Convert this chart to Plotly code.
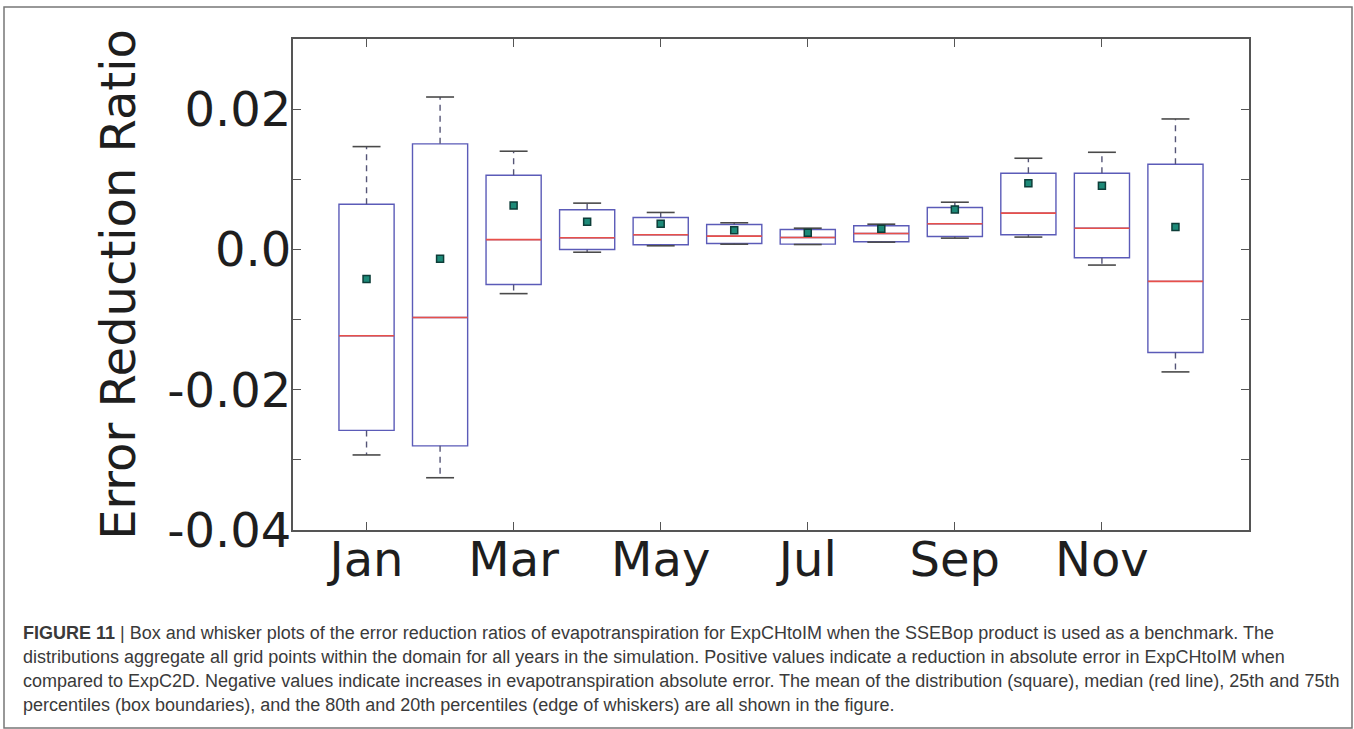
import plotly.graph_objects as go

months = ["Jan", "Feb", "Mar", "Apr", "May", "Jun", "Jul", "Aug", "Sep", "Oct", "Nov", "Dec"]
positions = [1, 2, 3, 4, 5, 6, 7, 8, 9, 10, 11, 12]
q1 = [-0.0258, -0.0280, -0.0050, 0.0000, 0.00067, 0.00085, 0.00075, 0.0011, 0.00185, 0.00209, -0.00118, -0.0147]
median = [-0.0123, -0.0097, 0.0014, 0.00166, 0.0021, 0.0019, 0.0017, 0.00228, 0.00366, 0.00517, 0.00303, -0.00456]
q3 = [0.00645, 0.01505, 0.01058, 0.00565, 0.00456, 0.00356, 0.00285, 0.00337, 0.00598, 0.01087, 0.01087, 0.01214]
p20 = [-0.0293, -0.03255, -0.0063, -0.0004, 0.00052, 0.00075, 0.0007, 0.00104, 0.00161, 0.00176, -0.00223, -0.01746]
p80 = [0.01466, 0.02173, 0.0140, 0.0066, 0.00527, 0.0038, 0.00303, 0.0036, 0.00673, 0.0130, 0.01385, 0.0186]
mean = [-0.00423, -0.00133, 0.00626, 0.00394, 0.00366, 0.00275, 0.00237, 0.00294, 0.0057, 0.00944, 0.00907, 0.00318]

xtick_vals = [1, 3, 5, 7, 9, 11]
xtick_text = ["Jan", "Mar", "May", "Jul", "Sep", "Nov"]
ytick_vals = [-0.04, -0.03, -0.02, -0.01, 0.0, 0.01, 0.02, 0.03]
ytick_text = ["-0.04", "", "-0.02", "", "0.0", "", "0.02", ""]

caption_lines = [
    "<b>FIGURE 11</b> | Box and whisker plots of the error reduction ratios of evapotranspiration for ExpCHtoIM when the SSEBop product is used as a benchmark. The",
    "distributions aggregate all grid points within the domain for all years in the simulation. Positive values indicate a reduction in absolute error in ExpCHtoIM when",
    "compared to ExpC2D. Negative values indicate increases in evapotranspiration absolute error. The mean of the distribution (square), median (red line), 25th and 75th",
    "percentiles (box boundaries), and the 80th and 20th percentiles (edge of whiskers) are all shown in the figure.",
]

BOX_W = 0.75
CAP_W = 0.38
BLUE = "#5b5bb8"
RED = "#e8504a"
DARK = "#4a4a4a"

fig = go.Figure()

fig.add_trace(go.Box(
    x=positions, q1=q1, median=median, q3=q3, lowerfence=q1, upperfence=q3,
    width=BOX_W, whiskerwidth=0,
    line=dict(color=BLUE, width=1.4), fillcolor="rgba(0,0,0,0)",
    boxpoints=False, showlegend=False, hoverinfo="skip",
))

def segs(xs0, xs1, ys0, ys1):
    X, Y = [], []
    for a, b, c, d in zip(xs0, xs1, ys0, ys1):
        X += [a, b, None]
        Y += [c, d, None]
    return X, Y

# whiskers (dashed)
wx, wy = segs(positions + positions, positions + positions, q3 + q1, p80 + p20)
fig.add_trace(go.Scatter(x=wx, y=wy, mode="lines", line=dict(color="#555577", width=1.4, dash="6px,5px"),
                         showlegend=False, hoverinfo="skip"))
# caps
cx0 = [p - CAP_W / 2 for p in positions]
cx1 = [p + CAP_W / 2 for p in positions]
kx, ky = segs(cx0 + cx0, cx1 + cx1, p80 + p20, p80 + p20)
fig.add_trace(go.Scatter(x=kx, y=ky, mode="lines", line=dict(color=DARK, width=1.6),
                         showlegend=False, hoverinfo="skip"))
# medians
mx0 = [p - BOX_W / 2 for p in positions]
mx1 = [p + BOX_W / 2 for p in positions]
mdx, mdy = segs(mx0, mx1, median, median)
fig.add_trace(go.Scatter(x=mdx, y=mdy, mode="lines", line=dict(color=RED, width=1.6),
                         showlegend=False, hoverinfo="skip"))
# means
fig.add_trace(go.Scatter(x=positions, y=mean, mode="markers",
                         marker=dict(symbol="square", size=7, color="#1d8a78",
                                     line=dict(color="#0d3d38", width=1.5)),
                         showlegend=False, hoverinfo="skip"))

axis_font = dict(family="DejaVu Sans", size=48, color="#1e1e1e")

fig.update_xaxes(
    range=[0, 13], tickvals=xtick_vals, ticktext=xtick_text,
    ticks="inside", ticklen=8, tickcolor="#555", tickwidth=1,
    showline=True, linecolor="#555", linewidth=2, mirror="ticks",
    showgrid=False, zeroline=False, tickfont=axis_font, ticklabelstandoff=-14,
)
fig.update_yaxes(
    range=[-0.04, 0.03], tickvals=ytick_vals, ticktext=ytick_text,
    ticks="inside", ticklen=8, tickcolor="#555", tickwidth=1,
    showline=True, linecolor="#555", linewidth=2, mirror="ticks",
    showgrid=False, zeroline=False, tickfont=axis_font, ticklabelstandoff=-10,
    title=dict(text="Error Reduction Ratio", font=axis_font, standoff=16),
)

W, H = 1354, 729
L, R, T, B = 293, 105, 39, 199
pw, ph = W - L - R, H - T - B

def px(x):
    return (x - L) / pw

def py(y):
    return (H - B - y) / ph

annotations = []
line_y = [633, 657, 681, 705]
for txt, yy in zip(caption_lines, line_y):
    annotations.append(dict(
        text=txt, x=px(21), y=py(yy), xref="paper", yref="paper",
        xanchor="left", yanchor="middle", showarrow=False, align="left",
        font=dict(family="Liberation Sans", size=18, color="#3a3a3a"),
    ))

fig.update_layout(
    width=W, height=H,
    margin=dict(l=L, r=R, t=T, b=B, pad=0),
    paper_bgcolor="white", plot_bgcolor="white",
    annotations=annotations,
    shapes=[dict(type="rect", xref="paper", yref="paper",
                 x0=px(4), x1=px(1352), y0=py(728), y1=py(7),
                 line=dict(color="#777", width=1.5), fillcolor="rgba(0,0,0,0)", layer="below")],
)

fig.write_html("out.html", config={"displayModeBar": False},
               post_script="document.body.style.margin='0';")
